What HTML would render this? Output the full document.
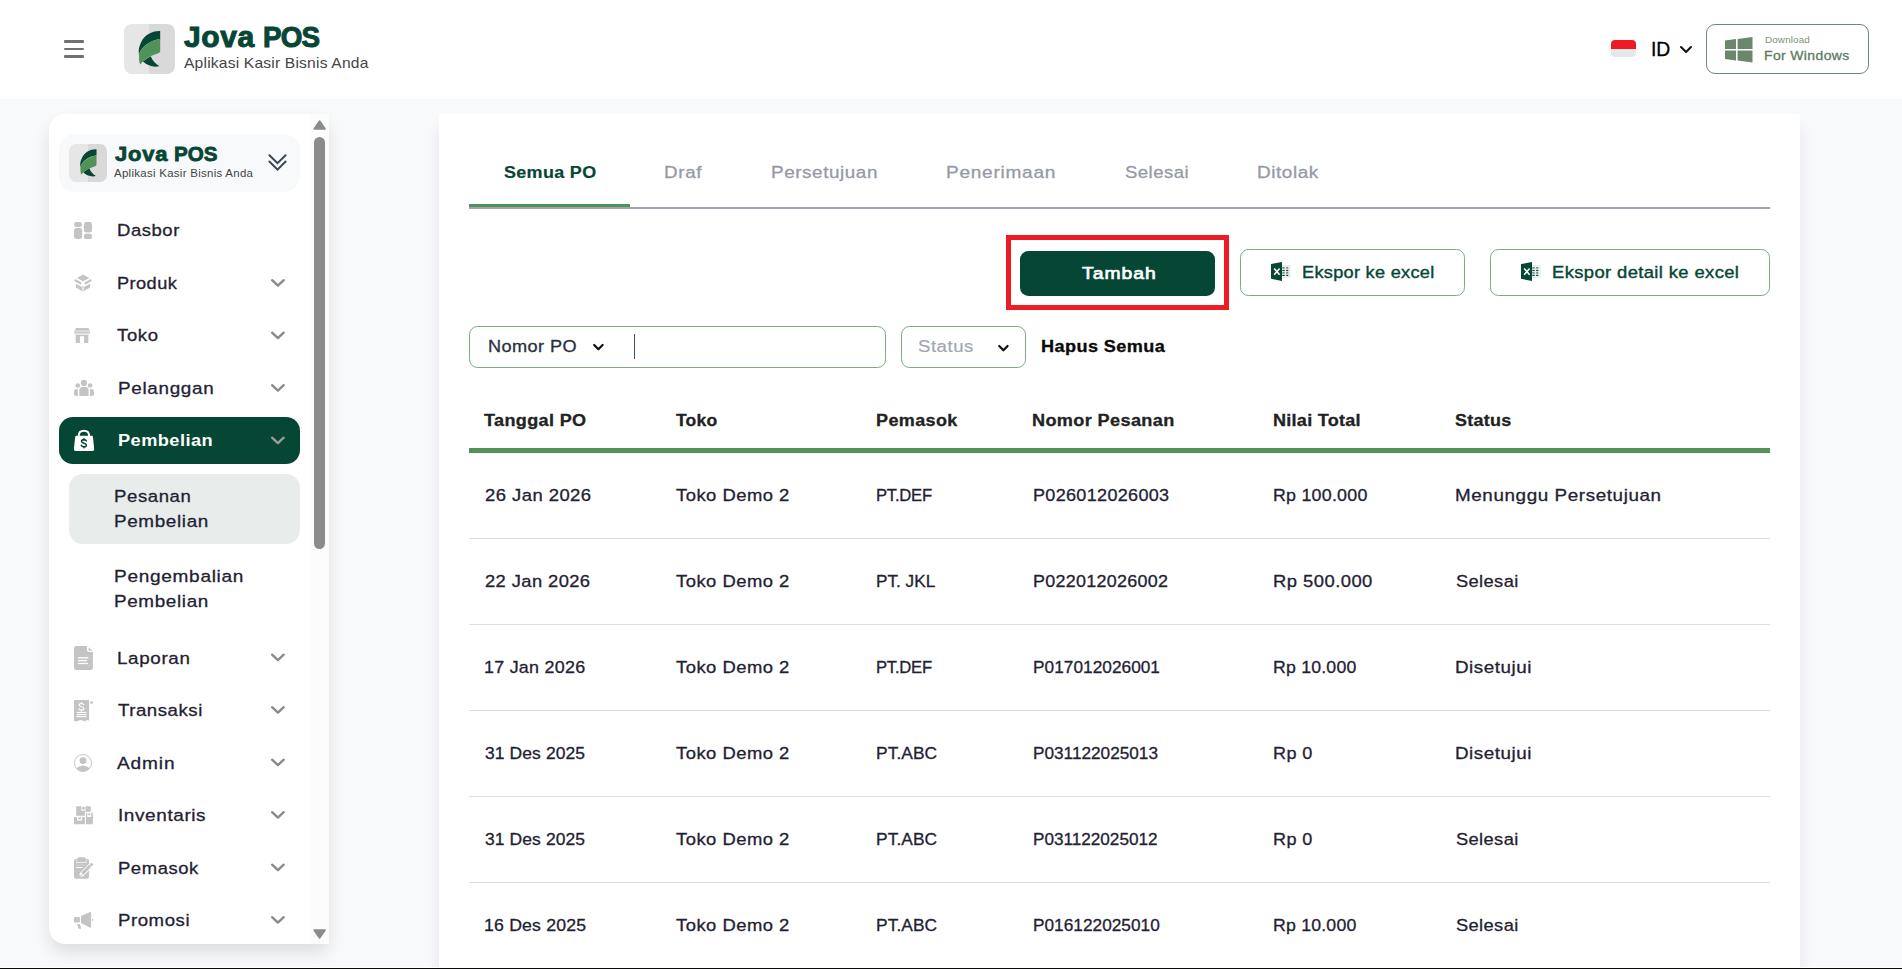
<!DOCTYPE html>
<html lang="id"><head><meta charset="utf-8"><title>Jova POS - Pesanan Pembelian</title>
<style>
*{box-sizing:border-box;margin:0;padding:0}
html,body{width:1902px;height:969px;overflow:hidden;background:#f8f9fb;font-family:"Liberation Sans",sans-serif}
body{position:relative}
.a{position:absolute}
.t{position:absolute;white-space:nowrap;line-height:1;transform-origin:0 50%}
svg{position:absolute;overflow:visible}
.hdr{left:0;top:0;width:1902px;height:99px;background:#fff}
.bar{left:64px;width:20px;height:2.2px;background:#707070;border-radius:1.1px}
.side{left:49px;top:114px;width:280px;height:829.7px;background:#fff;border-radius:16px 0 0 16px;box-shadow:0 9px 18px -2px rgba(0,0,0,.13)}
.main{left:439px;top:114px;width:1361px;height:870px;background:#fff;border-radius:1px;box-shadow:0 13px 16px rgba(20,30,60,.085)}
.sep{left:469px;width:1301px;height:1px;background:#dcdde3}
.btn{border:1px solid #7cab83;border-radius:8.5px;background:#fff}

</style></head>
<body>
<div class="a hdr"></div>
<div class="a bar" style="top:40.4px"></div><div class="a bar" style="top:47.9px"></div><div class="a bar" style="top:55.4px"></div>
<!-- header logo -->
<div class="a" style="left:124px;top:24px;width:50.5px;height:50px;border-radius:8px;background:linear-gradient(90deg,#e6e6e6 0 50%,#d9d9d9 50% 100%);overflow:hidden"></div>
<svg style="left:124px;top:24px" width="50" height="50" viewBox="0 0 50 50">
<path d="M36.2 7 C28.5 6.6 20.5 10.5 17 18.5 C15 22.5 14.3 26.5 14.9 30.2 C17.5 23 25 16.5 36.2 14.9 Z" fill="#064635"/>
<path d="M36.2 14.7 C23 17.5 16.5 25 14.9 29.9 L15.2 37 Q15.5 39.5 16.4 40.4 C19 36.5 24 32.5 34.4 29.3 Q36.2 28.5 36.2 27.1 Z" fill="#519259"/>
<path d="M18.9 37.6 C21 35.5 24 33.5 26.9 32.4 C28.5 36.5 31.5 40 35.3 42 C31 43.5 24 42.5 18.9 37.6 Z" fill="#064635"/>
</svg>
<!-- flag -->
<div class="a" style="left:1611px;top:40px;width:25px;height:17px;border-radius:4px;background:linear-gradient(180deg,#ed1c24 0 50%,#e6e7e8 50% 100%)"></div>
<svg style="left:1680px;top:46px" width="12" height="8" viewBox="0 0 12 8"><path d="M1 1 L6 6 L11 1" fill="none" stroke="#111" stroke-width="2" stroke-linecap="round" stroke-linejoin="round"/></svg>
<!-- download button -->
<div class="a" style="left:1706px;top:24px;width:163px;height:50px;border:1px solid #6f8a70;border-radius:9px;background:#fff"></div>
<svg style="left:1724.5px;top:36.5px" width="27.5" height="25.5" viewBox="0 0 27.5 25.5">
<path d="M0 3.6 L11 2.1 V12 H0 Z M12.6 1.9 L27.5 0 V12 H12.6 Z M0 13.5 H11 V23.4 L0 21.9 Z M12.6 13.5 H27.5 V25.5 L12.6 23.6 Z" fill="#6a876b"/>
</svg>
<!-- sidebar -->
<div class="a side"></div>
<div class="a" style="left:310px;top:114px;width:19px;height:829.7px;background:#fcfcfc"></div>
<div class="a" style="left:314px;top:137px;width:11px;height:412px;border-radius:5.5px;background:#8b8b8b"></div>
<svg style="left:313px;top:120px" width="13" height="10" viewBox="0 0 13 10"><path d="M6.6 1.2 L11.8 8.8 H1.4 Z" fill="#8b8b8b" stroke="#8b8b8b" stroke-width="2" stroke-linejoin="round"/></svg>
<svg style="left:313px;top:929px" width="13" height="10" viewBox="0 0 13 10"><path d="M6.6 8.8 L11.8 1.2 H1.4 Z" fill="#8b8b8b" stroke="#8b8b8b" stroke-width="2" stroke-linejoin="round"/></svg>
<div class="a" style="left:59px;top:134px;width:241px;height:57.75px;border-radius:16px;background:#f8f9fa"></div>
<div class="a" style="left:69px;top:144px;width:38px;height:37.7px;border-radius:7px;background:linear-gradient(90deg,#e6e6e6 0 50%,#d9d9d9 50% 100%)"></div>
<svg style="left:69px;top:144px" width="38" height="38" viewBox="0 0 50 50">
<path d="M36.2 7 C28.5 6.6 20.5 10.5 17 18.5 C15 22.5 14.3 26.5 14.9 30.2 C17.5 23 25 16.5 36.2 14.9 Z" fill="#064635"/>
<path d="M36.2 14.7 C23 17.5 16.5 25 14.9 29.9 L15.2 37 Q15.5 39.5 16.4 40.4 C19 36.5 24 32.5 34.4 29.3 Q36.2 28.5 36.2 27.1 Z" fill="#519259"/>
<path d="M18.9 37.6 C21 35.5 24 33.5 26.9 32.4 C28.5 36.5 31.5 40 35.3 42 C31 43.5 24 42.5 18.9 37.6 Z" fill="#064635"/>
</svg>
<svg style="left:0;top:0" width="300" height="200" viewBox="0 0 300 200"><path d="M269.4 155.2 L277.5 163.2 L285.6 155.2 M269.4 161.5 L277.5 169.6 L285.6 161.5" fill="none" stroke="#3b4757" stroke-width="2" stroke-linecap="round" stroke-linejoin="miter"/></svg>
<!-- active nav -->
<div class="a" style="left:59px;top:416.8px;width:241px;height:47.1px;border-radius:14px;background:#064635"></div>
<div class="a" style="left:69px;top:474px;width:231px;height:70px;border-radius:14px;background:#e8edeb"></div>

<!-- main -->
<div class="a main"></div>
<div class="a" style="left:469px;top:207px;width:1301px;height:2px;background:#9fa2b0"></div>
<div class="a" style="left:469px;top:204px;width:161px;height:3px;background:#519259"></div>
<div class="a" style="left:1006px;top:235px;width:223px;height:75px;border:5px solid #ec1c24"></div>
<div class="a" style="left:1020px;top:251px;width:195px;height:45px;border-radius:8.5px;background:#064635"></div>
<div class="a btn" style="left:1240px;top:249px;width:225px;height:47px"></div>
<div class="a btn" style="left:1490px;top:249px;width:280px;height:47px"></div>
<div class="a btn" style="left:469px;top:326px;width:417px;height:42px"></div>
<div class="a" style="left:634px;top:334px;width:1px;height:25px;background:#4a4f68"></div>
<div class="a btn" style="left:901px;top:326px;width:125px;height:42px"></div>
<svg style="left:593px;top:344.3px" width="11" height="7" viewBox="0 0 11 7"><path d="M1.2 1 L5.4 5.3 L9.6 1" fill="none" stroke="#111" stroke-width="2.2" stroke-linecap="round" stroke-linejoin="round"/></svg>
<svg style="left:997.7px;top:344.5px" width="11" height="7" viewBox="0 0 11 7"><path d="M1.2 1 L5.4 5.3 L9.6 1" fill="none" stroke="#111" stroke-width="2.2" stroke-linecap="round" stroke-linejoin="round"/></svg>
<div class="a" style="left:469px;top:448px;width:1301px;height:5px;background:#519259"></div>
<div class="a sep" style="top:538px"></div>
<div class="a sep" style="top:624px"></div>
<div class="a sep" style="top:710px"></div>
<div class="a sep" style="top:796px"></div>
<div class="a sep" style="top:882px"></div>
<div class="a" style="left:0;top:967px;width:1902px;height:1px;background:#fff"></div><div class="a" style="left:0;top:968px;width:1902px;height:1px;background:#0b0a05"></div>
<svg style="left:0;top:0" width="1902" height="969" viewBox="0 0 1902 969">
<g fill="#c4c4c4">
<!-- Dasbor -->
<rect x="74" y="222" width="8.1" height="5" rx="2.2"/><rect x="74" y="228.1" width="8.1" height="11" rx="2.4"/>
<rect x="83.9" y="222" width="8.1" height="10.6" rx="2.4"/><rect x="83.9" y="233.8" width="8.1" height="5.3" rx="2.2"/>
<!-- Produk -->
<path d="M83 274.6 L89.3 277.9 L83 281.3 L76.9 277.9 Z"/>
<path d="M75.2 278.9 L81.6 282.4 L80.9 284.7 L74.2 281 Z"/>
<path d="M90.8 278.9 L84.4 282.4 L85.1 284.7 L91.8 281 Z"/>
<path d="M75.9 283.8 L82 287 L82 291 L75.9 287.5 Z"/>
<path d="M90.1 283.8 L84 287 L84 291 L90.1 287.5 Z"/>
<rect x="82" y="286" width="2" height="5.6" fill="#e4e4e4"/>
<!-- Toko -->
<path d="M76 328 H88.3 L89.7 330.7 H74.4 Z"/>
<rect x="74.1" y="330.7" width="15.9" height="1.4" fill="#dcdcdc"/>
<rect x="74.1" y="332" width="15.9" height="1.6" rx=".6" fill="#c9c9c9"/>
<path d="M74.3 333.6 H89.8 L89.2 334.7 H74.9 Z" fill="#dedede"/>
<path d="M75.7 335 H88.3 V342.4 Q88.3 343.1 87.6 343.1 H84.1 V336.3 H79.9 V343.1 H76.4 Q75.7 343.1 75.7 342.4 Z"/>
<!-- Pelanggan -->
<circle cx="83.9" cy="382.9" r="3.1"/>
<path d="M79.3 396.1 V390.1 Q79.3 387.1 82.3 387.1 H85.6 Q88.6 387.1 88.6 390.1 V396.1 Z"/>
<circle cx="77.75" cy="385.5" r="2.35"/><circle cx="90.1" cy="385.5" r="2.35"/>
<path d="M77.9 388.9 V396.1 H76 Q74 396.1 74 394.1 V392 Q74 388.9 77.1 388.9 Z"/>
<path d="M90 388.9 V396.1 H92 Q94 396.1 94 394.1 V392 Q94 388.9 90.9 388.9 Z"/>
<!-- Laporan -->
<path d="M76.2 646 H86.9 V649.5 Q86.9 652 89.4 652 H92.9 V667.7 Q92.9 669.9 90.7 669.9 H76.2 Q74 669.9 74 667.7 V648.2 Q74 646 76.2 646 Z"/>
<path d="M88.7 647.2 L92.3 650.7 H88.7 Z"/>
<g fill="#fff"><rect x="77.9" y="657.1" width="10.5" height="1.4"/><rect x="77.9" y="660" width="9.1" height="1.2"/><rect x="77.9" y="662.8" width="10.2" height="1.3"/></g>
<!-- Transaksi -->
<path d="M75 700 H89.05 V720.9 Q88 719.2 86.2 720.6 Q84.3 722 82.5 720.6 Q80.6 719.2 78.8 720.6 Q76.9 722 74 720.9 V701 Q74 700 75 700 Z"/>
<rect x="90.1" y="701.2" width="2.8" height="2.6" rx="1.1"/>
<g fill="#fff"><rect x="76.7" y="711.9" width="9.6" height="1.1"/><rect x="76.7" y="714" width="9.6" height="1.1"/><rect x="76.4" y="716" width="10.2" height="1.1"/></g>
<!-- Inventaris -->
<path d="M76.2 806.3 H81.3 V810.8 H85.6 V806.3 H90.75 V811.8 H84.9 V815.8 H76.2 Z"/>
<rect x="82.2" y="806.8" width="2.6" height="2.8"/>
<path d="M74 816.9 H77 V820.6 H82.1 V816.9 H84.9 V824.3 H74 Z"/>
<rect x="78.2" y="817.4" width="2.8" height="1.8"/>
<path d="M86 812.8 H87.3 V816.9 H91.2 V812.8 H92.9 V824.3 H86 Z"/>
<rect x="88.3" y="813.2" width="1.8" height="2"/>
<!-- Pemasok -->
<path d="M76.2 858.7 H86.9 Q89.05 858.7 89.05 860.9 V876.5 Q89.05 878.7 86.9 878.7 H76.2 Q74 878.7 74 876.5 V860.9 Q74 858.7 76.2 858.7 Z"/>
<path d="M76 859.6 L77.2 861.2 M87.1 859.6 L85.9 861.2" fill="none" stroke="#fff" stroke-width=".9"/>
<rect x="77.9" y="857.2" width="7.3" height="3.6" rx="1"/>
<g fill="#fff"><rect x="76" y="862.2" width="10.8" height=".7"/><rect x="76" y="867.1" width="6.5" height=".9"/></g>
<rect x="76" y="864.6" width="10.8" height=".9" fill="#d4d4d4"/>
<path d="M81.8 874.4 L91.2 864.8 L92.6 863.4" fill="none" stroke="#fff" stroke-width="4.6" stroke-linecap="round"/>
<path d="M82.4 873.6 L90.2 865.8" fill="none" stroke="#c4c4c4" stroke-width="3" stroke-linecap="butt"/>
<circle cx="91.5" cy="864.6" r="1.55"/>
<path d="M80.4 876 L81.1 873.7 L82.7 875.3 Z"/>
<!-- Promosi -->
<rect x="74" y="916.9" width="5.9" height="5.6" rx="1"/>
<path d="M81 916 L90.2 912.1 Q91.1 911.8 91.1 912.8 V927 Q91.1 928 90.2 927.7 L81 923 Z"/>
<rect x="92" y="918.5" width="1" height="2.6" rx=".5"/>
<path d="M77.1 924 H79.9 L81.2 928.8 H78.4 Z"/>
</g>
<!-- Transaksi $ -->
<path transform="translate(81.5 706.7)" d="M2.4 -1.9 C2 -2.8 1.1 -3.2 0 -3.2 C-1.5 -3.2 -2.3 -2.5 -2.3 -1.6 C-2.3 -0.5 -1.3 -0.2 0 0.1 C1.4 0.4 2.4 0.8 2.4 1.9 C2.4 2.8 1.5 3.4 0 3.4 C-1.3 3.4 -2.2 2.9 -2.6 2 M0 -4.1 V-3 M0 3.3 V4.3" fill="none" stroke="#fff" stroke-width="1.15" stroke-linecap="round"/>
<!-- Admin -->
<circle cx="83" cy="763" r="8.5" fill="none" stroke="#c8c8c8" stroke-width="1"/>
<circle cx="83" cy="760.7" r="3.4" fill="#c4c4c4"/>
<path d="M76.35 768.3 Q83 762.9 89.65 768.3 A8.5 8.5 0 0 1 76.35 768.3 Z" fill="#c4c4c4"/>
<!-- Pembelian bag -->
<path d="M76.3 435.8 H91.8 Q92.8 435.8 92.9 436.8 L94.2 449 Q94.4 451 92.4 451 H75.7 Q73.7 451 73.9 449 L75.2 436.8 Q75.3 435.8 76.3 435.8 Z" fill="#fff"/>
<path d="M78.7 435.9 Q78.7 430.8 83.9 430.8 Q89.1 430.8 89.1 435.9" fill="none" stroke="#fff" stroke-width="2"/>
<path transform="translate(83.9 443.1) scale(1.03 1.08)" d="M2.4 -1.9 C2 -2.8 1.1 -3.2 0 -3.2 C-1.5 -3.2 -2.3 -2.5 -2.3 -1.6 C-2.3 -0.5 -1.3 -0.2 0 0.1 C1.4 0.4 2.4 0.8 2.4 1.9 C2.4 2.8 1.5 3.4 0 3.4 C-1.3 3.4 -2.2 2.9 -2.6 2 M0 -4.1 V-3 M0 3.3 V4.3" fill="none" stroke="#064635" stroke-width="1.45" stroke-linecap="round"/>
<!-- nav chevrons -->
<g fill="none" stroke="#8a8a8a" stroke-width="2.4" stroke-linecap="round" stroke-linejoin="round">
<path d="M272.1 280.2 L277.9 285.6 L283.7 280.2"/>
<path d="M272.1 332.7 L277.9 338.1 L283.7 332.7"/>
<path d="M272.1 385.2 L277.9 390.6 L283.7 385.2"/>
<path d="M272.1 437.7 L277.9 443.1 L283.7 437.7" stroke="#9a9c9b"/>
<path d="M272.1 654.7 L277.9 660.1 L283.7 654.7"/>
<path d="M272.1 707.2 L277.9 712.6 L283.7 707.2"/>
<path d="M272.1 759.7 L277.9 765.1 L283.7 759.7"/>
<path d="M272.1 812.2 L277.9 817.6 L283.7 812.2"/>
<path d="M272.1 864.7 L277.9 870.1 L283.7 864.7"/>
<path d="M272.1 917.2 L277.9 922.6 L283.7 917.2"/>
</g>
<!-- excel icons -->
<g>
<rect x="1282" y="265" width="8.8" height="13" fill="#eceeef"/>
<g fill="#0b4a38"><rect x="1282.3" y="269.9" width="2.4" height="1.2"/><rect x="1286.1" y="269.9" width="2.2" height="1.2"/><rect x="1282.3" y="274.8" width="2.4" height="1.2"/><rect x="1286.1" y="274.8" width="2.2" height="1.2"/></g>
<g fill="#6d9486"><rect x="1282.3" y="267" width="2.4" height="1.7"/><rect x="1286.1" y="267" width="2.2" height="1.7"/><rect x="1282.3" y="272" width="2.4" height="1.7"/><rect x="1286.1" y="272" width="2.2" height="1.7"/></g>
<path d="M1271 264.1 L1282 262.1 V281 L1271 278.8 Z" fill="#064635"/>
<path d="M1274.2 268.4 L1279.6 274.8 M1279.6 268.4 L1274.2 274.8" stroke="#fff" stroke-width="1.5" fill="none"/>
</g>
<g transform="translate(250 0)">
<rect x="1282" y="265" width="8.8" height="13" fill="#eceeef"/>
<g fill="#0b4a38"><rect x="1282.3" y="269.9" width="2.4" height="1.2"/><rect x="1286.1" y="269.9" width="2.2" height="1.2"/><rect x="1282.3" y="274.8" width="2.4" height="1.2"/><rect x="1286.1" y="274.8" width="2.2" height="1.2"/></g>
<g fill="#6d9486"><rect x="1282.3" y="267" width="2.4" height="1.7"/><rect x="1286.1" y="267" width="2.2" height="1.7"/><rect x="1282.3" y="272" width="2.4" height="1.7"/><rect x="1286.1" y="272" width="2.2" height="1.7"/></g>
<path d="M1271 264.1 L1282 262.1 V281 L1271 278.8 Z" fill="#064635"/>
<path d="M1274.2 268.4 L1279.6 274.8 M1279.6 268.4 L1274.2 274.8" stroke="#fff" stroke-width="1.5" fill="none"/>
</g>
</svg>

<span class="t" style="left:184.42px;top:23.00px;font-size:29px;font-weight:700;color:#064635;letter-spacing:0.530px;transform:scaleX(1.0364);-webkit-text-stroke:1.0px #064635;">Jova</span>
<span class="t" style="left:262.92px;top:23.00px;font-size:29px;font-weight:700;color:#064635;letter-spacing:-0.878px;transform:scaleX(0.9586);-webkit-text-stroke:1.0px #064635;">POS</span>
<span class="t" style="left:183.80px;top:55.00px;font-size:15px;font-weight:400;color:#444;letter-spacing:0.181px;transform:scaleX(1.0407);">Aplikasi Kasir Bisnis Anda</span>
<span class="t" style="left:1650.66px;top:40.00px;font-size:19.5px;font-weight:400;color:#000;letter-spacing:-0.088px;transform:scaleX(0.9930);-webkit-text-stroke:0.3px #000;">ID</span>
<span class="t" style="left:1765.30px;top:35.00px;font-size:9.5px;font-weight:400;color:#7b917c;letter-spacing:0.140px;transform:scaleX(1.0362);">Download</span>
<span class="t" style="left:1764.39px;top:49.00px;font-size:13px;font-weight:400;color:#5d7b5f;letter-spacing:0.348px;transform:scaleX(1.0741);-webkit-text-stroke:0.3px #5d7b5f;">For Windows</span>
<span class="t" style="left:114.83px;top:144.00px;font-size:20.5px;font-weight:700;color:#064635;letter-spacing:0.717px;transform:scaleX(1.0719);-webkit-text-stroke:0.8px #064635;">Jova</span>
<span class="t" style="left:173.70px;top:144.00px;font-size:20.5px;font-weight:700;color:#064635;letter-spacing:0.055px;transform:scaleX(1.0039);-webkit-text-stroke:0.8px #064635;">POS</span>
<span class="t" style="left:114.40px;top:168.00px;font-size:10.5px;font-weight:400;color:#444;letter-spacing:0.266px;transform:scaleX(1.0899);">Aplikasi Kasir Bisnis Anda</span>
<span class="t" style="left:117.19px;top:222.00px;font-size:17.2px;font-weight:400;color:#1f2233;letter-spacing:0.515px;transform:scaleX(1.0755);-webkit-text-stroke:0.3px #1f2233;">Dasbor</span>
<span class="t" style="left:117.20px;top:275.00px;font-size:17.2px;font-weight:400;color:#1f2233;letter-spacing:0.402px;transform:scaleX(1.0590);-webkit-text-stroke:0.3px #1f2233;">Produk</span>
<span class="t" style="left:117.26px;top:327.00px;font-size:17.2px;font-weight:400;color:#1f2233;letter-spacing:0.575px;transform:scaleX(1.0773);-webkit-text-stroke:0.3px #1f2233;">Toko</span>
<span class="t" style="left:118.07px;top:380.00px;font-size:17.2px;font-weight:400;color:#1f2233;letter-spacing:0.608px;transform:scaleX(1.0990);-webkit-text-stroke:0.3px #1f2233;">Pelanggan</span>
<span class="t" style="left:117.17px;top:650.00px;font-size:17.2px;font-weight:400;color:#1f2233;letter-spacing:0.590px;transform:scaleX(1.0940);-webkit-text-stroke:0.3px #1f2233;">Laporan</span>
<span class="t" style="left:118.06px;top:702.00px;font-size:17.2px;font-weight:400;color:#1f2233;letter-spacing:0.481px;transform:scaleX(1.0854);-webkit-text-stroke:0.3px #1f2233;">Transaksi</span>
<span class="t" style="left:117.47px;top:755.00px;font-size:17.2px;font-weight:400;color:#1f2233;letter-spacing:0.797px;transform:scaleX(1.1095);-webkit-text-stroke:0.3px #1f2233;">Admin</span>
<span class="t" style="left:117.66px;top:807.00px;font-size:17.2px;font-weight:400;color:#1f2233;letter-spacing:0.521px;transform:scaleX(1.1063);-webkit-text-stroke:0.3px #1f2233;">Inventaris</span>
<span class="t" style="left:117.69px;top:860.00px;font-size:17.2px;font-weight:400;color:#1f2233;letter-spacing:0.537px;transform:scaleX(1.0726);-webkit-text-stroke:0.3px #1f2233;">Pemasok</span>
<span class="t" style="left:117.68px;top:912.00px;font-size:17.2px;font-weight:400;color:#1f2233;letter-spacing:0.516px;transform:scaleX(1.0816);-webkit-text-stroke:0.3px #1f2233;">Promosi</span>
<span class="t" style="left:117.94px;top:432.00px;font-size:17.2px;font-weight:700;color:#fff;letter-spacing:0.401px;transform:scaleX(1.0605);">Pembelian</span>
<span class="t" style="left:114.08px;top:488.00px;font-size:17.2px;font-weight:400;color:#1f2233;letter-spacing:0.549px;transform:scaleX(1.0802);-webkit-text-stroke:0.3px #1f2233;">Pesanan</span>
<span class="t" style="left:114.07px;top:513.00px;font-size:17.2px;font-weight:400;color:#1f2233;letter-spacing:0.590px;transform:scaleX(1.0971);-webkit-text-stroke:0.3px #1f2233;">Pembelian</span>
<span class="t" style="left:114.06px;top:568.00px;font-size:17.2px;font-weight:400;color:#1f2233;letter-spacing:0.636px;transform:scaleX(1.1070);-webkit-text-stroke:0.3px #1f2233;">Pengembalian</span>
<span class="t" style="left:114.07px;top:593.00px;font-size:17.2px;font-weight:400;color:#1f2233;letter-spacing:0.590px;transform:scaleX(1.0971);-webkit-text-stroke:0.3px #1f2233;">Pembelian</span>
<span class="t" style="left:503.80px;top:164.00px;font-size:17.2px;font-weight:700;color:#064635;letter-spacing:0.334px;transform:scaleX(1.0425);-webkit-text-stroke:0.2px #064635;">Semua PO</span>
<span class="t" style="left:664.37px;top:164.00px;font-size:17.2px;font-weight:400;color:#9699a6;letter-spacing:0.609px;transform:scaleX(1.0936);-webkit-text-stroke:0.3px #9699a6;">Draf</span>
<span class="t" style="left:771.37px;top:164.00px;font-size:17.2px;font-weight:400;color:#9699a6;letter-spacing:0.530px;transform:scaleX(1.0963);-webkit-text-stroke:0.3px #9699a6;">Persetujuan</span>
<span class="t" style="left:946.36px;top:164.00px;font-size:17.2px;font-weight:400;color:#9699a6;letter-spacing:0.664px;transform:scaleX(1.1087);-webkit-text-stroke:0.3px #9699a6;">Penerimaan</span>
<span class="t" style="left:1125.46px;top:164.00px;font-size:17.2px;font-weight:400;color:#9699a6;letter-spacing:0.442px;transform:scaleX(1.0767);-webkit-text-stroke:0.3px #9699a6;">Selesai</span>
<span class="t" style="left:1257.36px;top:164.00px;font-size:17.2px;font-weight:400;color:#9699a6;letter-spacing:0.530px;transform:scaleX(1.1004);-webkit-text-stroke:0.3px #9699a6;">Ditolak</span>
<span class="t" style="left:1081.69px;top:265.00px;font-size:17.2px;font-weight:400;color:#fff;letter-spacing:0.904px;transform:scaleX(1.1243);-webkit-text-stroke:0.7px #fff;">Tambah</span>
<span class="t" style="left:1301.66px;top:264.00px;font-size:17.2px;font-weight:400;color:#064635;letter-spacing:0.295px;transform:scaleX(1.0545);-webkit-text-stroke:0.4px #064635;">Ekspor ke excel</span>
<span class="t" style="left:1551.64px;top:264.00px;font-size:17.2px;font-weight:400;color:#064635;letter-spacing:0.349px;transform:scaleX(1.0711);-webkit-text-stroke:0.4px #064635;">Ekspor detail ke excel</span>
<span class="t" style="left:487.80px;top:338.00px;font-size:17.2px;font-weight:400;color:#2b2f42;letter-spacing:0.400px;transform:scaleX(1.0553);-webkit-text-stroke:0.3px #2b2f42;">Nomor PO</span>
<span class="t" style="left:917.81px;top:338.00px;font-size:17.2px;font-weight:400;color:#a3a5b4;letter-spacing:0.485px;transform:scaleX(1.0814);-webkit-text-stroke:0.2px #a3a5b4;">Status</span>
<span class="t" style="left:1041.10px;top:338.00px;font-size:17.2px;font-weight:700;color:#0a0a0a;letter-spacing:0.383px;transform:scaleX(1.0534);-webkit-text-stroke:0.3px #0a0a0a;">Hapus Semua</span>
<span class="t" style="left:484.46px;top:412.00px;font-size:17.2px;font-weight:700;color:#222;letter-spacing:0.332px;transform:scaleX(1.0499);-webkit-text-stroke:0.3px #222;">Tanggal PO</span>
<span class="t" style="left:676.45px;top:412.00px;font-size:17.2px;font-weight:700;color:#222;letter-spacing:0.185px;transform:scaleX(1.0215);-webkit-text-stroke:0.3px #222;">Toko</span>
<span class="t" style="left:876.41px;top:412.00px;font-size:17.2px;font-weight:700;color:#222;letter-spacing:0.368px;transform:scaleX(1.0461);-webkit-text-stroke:0.3px #222;">Pemasok</span>
<span class="t" style="left:1032.41px;top:412.00px;font-size:17.2px;font-weight:700;color:#222;letter-spacing:0.359px;transform:scaleX(1.0525);-webkit-text-stroke:0.3px #222;">Nomor Pesanan</span>
<span class="t" style="left:1273.41px;top:412.00px;font-size:17.2px;font-weight:700;color:#222;letter-spacing:0.252px;transform:scaleX(1.0500);-webkit-text-stroke:0.3px #222;">Nilai Total</span>
<span class="t" style="left:1455.46px;top:412.00px;font-size:17.2px;font-weight:700;color:#222;letter-spacing:0.286px;transform:scaleX(1.0428);-webkit-text-stroke:0.3px #222;">Status</span>
<span class="t" style="left:484.66px;top:487.00px;font-size:17.2px;font-weight:400;color:#1f2233;letter-spacing:0.426px;transform:scaleX(1.0727);-webkit-text-stroke:0.3px #1f2233;">26 Jan 2026</span>
<span class="t" style="left:676.46px;top:487.00px;font-size:17.2px;font-weight:400;color:#1f2233;letter-spacing:0.448px;transform:scaleX(1.0712);-webkit-text-stroke:0.3px #1f2233;">Toko Demo 2</span>
<span class="t" style="left:876.48px;top:487.00px;font-size:17.2px;font-weight:400;color:#1f2233;letter-spacing:-0.249px;transform:scaleX(0.9688);-webkit-text-stroke:0.3px #1f2233;">PT.DEF</span>
<span class="t" style="left:1033.11px;top:487.00px;font-size:17.2px;font-weight:400;color:#1f2233;letter-spacing:0.315px;transform:scaleX(1.0475);-webkit-text-stroke:0.3px #1f2233;">P026012026003</span>
<span class="t" style="left:1273.42px;top:487.00px;font-size:17.2px;font-weight:400;color:#1f2233;letter-spacing:0.231px;transform:scaleX(1.0369);-webkit-text-stroke:0.3px #1f2233;">Rp 100.000</span>
<span class="t" style="left:1454.67px;top:487.00px;font-size:17.2px;font-weight:400;color:#1f2233;letter-spacing:0.542px;transform:scaleX(1.0960);-webkit-text-stroke:0.3px #1f2233;">Menunggu Persetujuan</span>
<span class="t" style="left:484.66px;top:573.00px;font-size:17.2px;font-weight:400;color:#1f2233;letter-spacing:0.391px;transform:scaleX(1.0663);-webkit-text-stroke:0.3px #1f2233;">22 Jan 2026</span>
<span class="t" style="left:676.46px;top:573.00px;font-size:17.2px;font-weight:400;color:#1f2233;letter-spacing:0.448px;transform:scaleX(1.0712);-webkit-text-stroke:0.3px #1f2233;">Toko Demo 2</span>
<span class="t" style="left:876.45px;top:573.00px;font-size:17.2px;font-weight:400;color:#1f2233;letter-spacing:0.002px;transform:scaleX(1.0003);-webkit-text-stroke:0.3px #1f2233;">PT. JKL</span>
<span class="t" style="left:1033.11px;top:573.00px;font-size:17.2px;font-weight:400;color:#1f2233;letter-spacing:0.278px;transform:scaleX(1.0417);-webkit-text-stroke:0.3px #1f2233;">P022012026002</span>
<span class="t" style="left:1273.39px;top:573.00px;font-size:17.2px;font-weight:400;color:#1f2233;letter-spacing:0.431px;transform:scaleX(1.0711);-webkit-text-stroke:0.3px #1f2233;">Rp 500.000</span>
<span class="t" style="left:1455.76px;top:573.00px;font-size:17.2px;font-weight:400;color:#1f2233;letter-spacing:0.367px;transform:scaleX(1.0628);-webkit-text-stroke:0.3px #1f2233;">Selesai</span>
<span class="t" style="left:483.61px;top:659.00px;font-size:17.2px;font-weight:400;color:#1f2233;letter-spacing:0.247px;transform:scaleX(1.0413);-webkit-text-stroke:0.3px #1f2233;">17 Jan 2026</span>
<span class="t" style="left:676.46px;top:659.00px;font-size:17.2px;font-weight:400;color:#1f2233;letter-spacing:0.448px;transform:scaleX(1.0712);-webkit-text-stroke:0.3px #1f2233;">Toko Demo 2</span>
<span class="t" style="left:876.48px;top:659.00px;font-size:17.2px;font-weight:400;color:#1f2233;letter-spacing:-0.249px;transform:scaleX(0.9688);-webkit-text-stroke:0.3px #1f2233;">PT.DEF</span>
<span class="t" style="left:1033.15px;top:659.00px;font-size:17.2px;font-weight:400;color:#1f2233;letter-spacing:0.026px;transform:scaleX(1.0038);-webkit-text-stroke:0.3px #1f2233;">P017012026001</span>
<span class="t" style="left:1273.42px;top:659.00px;font-size:17.2px;font-weight:400;color:#1f2233;letter-spacing:0.191px;transform:scaleX(1.0302);-webkit-text-stroke:0.3px #1f2233;">Rp 10.000</span>
<span class="t" style="left:1454.67px;top:659.00px;font-size:17.2px;font-weight:400;color:#1f2233;letter-spacing:0.470px;transform:scaleX(1.0959);-webkit-text-stroke:0.3px #1f2233;">Disetujui</span>
<span class="t" style="left:484.65px;top:745.00px;font-size:17.2px;font-weight:400;color:#1f2233;letter-spacing:0.102px;transform:scaleX(1.0160);-webkit-text-stroke:0.3px #1f2233;">31 Des 2025</span>
<span class="t" style="left:676.46px;top:745.00px;font-size:17.2px;font-weight:400;color:#1f2233;letter-spacing:0.448px;transform:scaleX(1.0712);-webkit-text-stroke:0.3px #1f2233;">Toko Demo 2</span>
<span class="t" style="left:876.44px;top:745.00px;font-size:17.2px;font-weight:400;color:#1f2233;letter-spacing:0.075px;transform:scaleX(1.0096);-webkit-text-stroke:0.3px #1f2233;">PT.ABC</span>
<span class="t" style="left:1033.15px;top:745.00px;font-size:17.2px;font-weight:400;color:#1f2233;letter-spacing:0.002px;transform:scaleX(1.0003);-webkit-text-stroke:0.3px #1f2233;">P031122025013</span>
<span class="t" style="left:1273.41px;top:745.00px;font-size:17.2px;font-weight:400;color:#1f2233;letter-spacing:0.374px;transform:scaleX(1.0504);-webkit-text-stroke:0.3px #1f2233;">Rp 0</span>
<span class="t" style="left:1454.67px;top:745.00px;font-size:17.2px;font-weight:400;color:#1f2233;letter-spacing:0.470px;transform:scaleX(1.0959);-webkit-text-stroke:0.3px #1f2233;">Disetujui</span>
<span class="t" style="left:484.65px;top:831.00px;font-size:17.2px;font-weight:400;color:#1f2233;letter-spacing:0.102px;transform:scaleX(1.0160);-webkit-text-stroke:0.3px #1f2233;">31 Des 2025</span>
<span class="t" style="left:676.46px;top:831.00px;font-size:17.2px;font-weight:400;color:#1f2233;letter-spacing:0.448px;transform:scaleX(1.0712);-webkit-text-stroke:0.3px #1f2233;">Toko Demo 2</span>
<span class="t" style="left:876.44px;top:831.00px;font-size:17.2px;font-weight:400;color:#1f2233;letter-spacing:0.075px;transform:scaleX(1.0096);-webkit-text-stroke:0.3px #1f2233;">PT.ABC</span>
<span class="t" style="left:1033.15px;top:831.00px;font-size:17.2px;font-weight:400;color:#1f2233;letter-spacing:-0.012px;transform:scaleX(0.9983);-webkit-text-stroke:0.3px #1f2233;">P031122025012</span>
<span class="t" style="left:1273.41px;top:831.00px;font-size:17.2px;font-weight:400;color:#1f2233;letter-spacing:0.374px;transform:scaleX(1.0504);-webkit-text-stroke:0.3px #1f2233;">Rp 0</span>
<span class="t" style="left:1455.76px;top:831.00px;font-size:17.2px;font-weight:400;color:#1f2233;letter-spacing:0.367px;transform:scaleX(1.0628);-webkit-text-stroke:0.3px #1f2233;">Selesai</span>
<span class="t" style="left:483.63px;top:917.00px;font-size:17.2px;font-weight:400;color:#1f2233;letter-spacing:0.178px;transform:scaleX(1.0286);-webkit-text-stroke:0.3px #1f2233;">16 Des 2025</span>
<span class="t" style="left:676.46px;top:917.00px;font-size:17.2px;font-weight:400;color:#1f2233;letter-spacing:0.448px;transform:scaleX(1.0712);-webkit-text-stroke:0.3px #1f2233;">Toko Demo 2</span>
<span class="t" style="left:876.44px;top:917.00px;font-size:17.2px;font-weight:400;color:#1f2233;letter-spacing:0.075px;transform:scaleX(1.0096);-webkit-text-stroke:0.3px #1f2233;">PT.ABC</span>
<span class="t" style="left:1033.15px;top:917.00px;font-size:17.2px;font-weight:400;color:#1f2233;letter-spacing:0.020px;transform:scaleX(1.0028);-webkit-text-stroke:0.3px #1f2233;">P016122025010</span>
<span class="t" style="left:1273.42px;top:917.00px;font-size:17.2px;font-weight:400;color:#1f2233;letter-spacing:0.191px;transform:scaleX(1.0302);-webkit-text-stroke:0.3px #1f2233;">Rp 10.000</span>
<span class="t" style="left:1455.76px;top:917.00px;font-size:17.2px;font-weight:400;color:#1f2233;letter-spacing:0.367px;transform:scaleX(1.0628);-webkit-text-stroke:0.3px #1f2233;">Selesai</span>
</body></html>
